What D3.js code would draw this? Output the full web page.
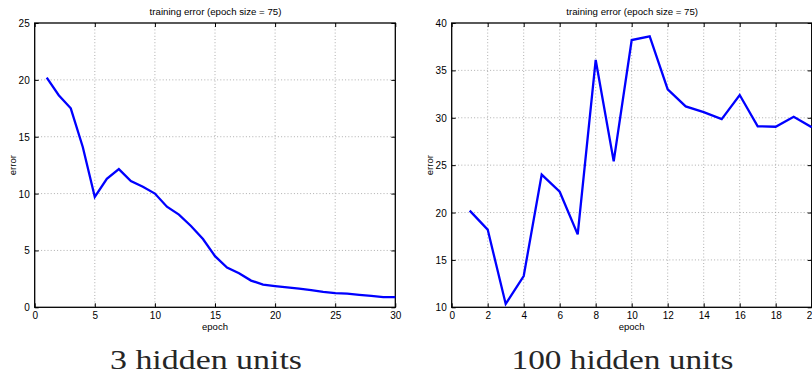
<!DOCTYPE html>
<html>
<head>
<meta charset="utf-8">
<script src="https://cdn.jsdelivr.net/npm/d3@7"></script>
<style>
  html, body { margin: 0; padding: 0; background: #fff; overflow: hidden; }
  svg { display: block; }
  .tick text { font-family: "Liberation Sans", Arial, sans-serif; font-size: 10px; fill: #000; }
  .lbl { font-family: "Liberation Sans", Arial, sans-serif; font-size: 9.5px; fill: #000; }
  .caption { font-family: "Liberation Serif", serif; font-size: 27px; fill: #262626; }
</style>
</head>
<body>
<script>
"use strict";

// panel 1: 3 hidden units
var epochs3 = [1, 2, 3, 4, 5, 6, 7, 8, 9, 10, 11, 12, 13, 14, 15, 16, 17, 18, 19, 20, 21, 22, 23, 24, 25, 26, 27, 28, 29, 30];
var error3 = [20.2, 18.65, 17.5, 14.1, 9.7, 11.3, 12.15, 11.1, 10.6, 10.0, 8.85, 8.15, 7.15, 6.0, 4.5, 3.5, 3.0, 2.35, 2.0, 1.87, 1.75, 1.65, 1.52, 1.35, 1.25, 1.2, 1.1, 1.0, 0.9, 0.9];
var xTicks3 = [0, 5, 10, 15, 20, 25, 30];
var yTicks3 = [0, 5, 10, 15, 20, 25];

// panel 2: 100 hidden units
var epochs100 = [1, 2, 3, 4, 5, 6, 7, 8, 9, 10, 11, 12, 13, 14, 15, 16, 17, 18, 19, 20];
var error100 = [20.2, 18.2, 10.35, 13.3, 24.0, 22.2, 17.7, 36.1, 25.4, 38.2, 38.6, 33.0, 31.2, 30.6, 29.85, 32.4, 29.1, 29.05, 30.1, 29.0];
var xTicks100 = [0, 2, 4, 6, 8, 10, 12, 14, 16, 18, 20];
var yTicks100 = [10, 15, 20, 25, 30, 35, 40];

var titleText = "training error (epoch size = 75)";

var config = {
  width: 812,
  height: 375,
  top: 23,
  bottom: 307.3,
  tickLen: 4,
  titleWidth: 132
};

var svg = d3.select("body").append("svg")
  .attr("width", config.width)
  .attr("height", config.height);

// size a text so that it spans the given width
function fitWidth(sel, w) {
  var base = parseFloat(getComputedStyle(sel.node()).fontSize);
  var len = sel.node().getComputedTextLength();
  if (len > 0) sel.style("font-size", (base * w / len) + "px");
}

function drawPanel(opts) {
  var x = d3.scaleLinear().domain(opts.xDomain).range([opts.left, opts.right]);
  var y = d3.scaleLinear().domain(opts.yDomain).range([config.bottom, config.top]);
  var g = svg.append("g");

  // dotted grid
  g.append("g").selectAll("line")
    .data(opts.xTicks.slice(1, -1))
    .join("line")
    .attr("x1", d => x(d)).attr("x2", d => x(d))
    .attr("y1", config.top).attr("y2", config.bottom)
    .attr("stroke", "#9a9a9a").attr("stroke-width", 0.8)
    .attr("stroke-dasharray", "1,2.2");
  g.append("g").selectAll("line")
    .data(opts.yTicks.slice(1, -1))
    .join("line")
    .attr("x1", opts.left).attr("x2", opts.right)
    .attr("y1", d => y(d)).attr("y2", d => y(d))
    .attr("stroke", "#9a9a9a").attr("stroke-width", 0.8)
    .attr("stroke-dasharray", "1,2.2");

  // axes, matlab style ticks pointing in
  var xAxis = g.append("g")
    .attr("transform", "translate(0," + config.bottom + ")")
    .call(d3.axisBottom(x).tickValues(opts.xTicks).tickSizeInner(-config.tickLen).tickSizeOuter(0).tickPadding(6));
  var yAxis = g.append("g")
    .attr("transform", "translate(" + opts.left + ",0)")
    .call(d3.axisLeft(y).tickValues(opts.yTicks).tickSizeInner(-config.tickLen).tickSizeOuter(0).tickPadding(5));
  g.append("g")
    .attr("transform", "translate(0," + config.top + ")")
    .call(d3.axisTop(x).tickValues(opts.xTicks).tickSizeInner(-config.tickLen).tickSizeOuter(0).tickFormat(""));
  g.append("g")
    .attr("transform", "translate(" + opts.right + ",0)")
    .call(d3.axisRight(y).tickValues(opts.yTicks).tickSizeInner(-config.tickLen).tickSizeOuter(0).tickFormat(""));

  g.selectAll(".domain").remove();
  g.selectAll(".tick line").attr("stroke", "#000").attr("stroke-width", 1);
  xAxis.selectAll(".tick text").attr("dy", "0.6em");
  yAxis.selectAll(".tick text").attr("dy", "0.35em");

  // box
  g.append("rect")
    .attr("x", opts.left).attr("y", config.top)
    .attr("width", opts.right - opts.left)
    .attr("height", config.bottom - config.top)
    .attr("fill", "none").attr("stroke", "#000").attr("stroke-width", 1.3);

  // data
  var line = d3.line().x(d => x(d[0])).y(d => y(d[1]));
  g.append("path")
    .datum(d3.zip(opts.epochs, opts.values))
    .attr("d", line)
    .attr("fill", "none")
    .attr("stroke", "#0000ff")
    .attr("stroke-width", 2.3)
    .attr("stroke-linejoin", "miter");

  var mid = (opts.left + opts.right) / 2;
  var title = g.append("text").classed("lbl", true)
    .attr("x", mid + 0.5).attr("y", 15)
    .attr("text-anchor", "middle")
    .text(titleText);
  fitWidth(title, config.titleWidth);

  g.append("text").classed("lbl", true)
    .attr("x", mid).attr("y", 330)
    .attr("text-anchor", "middle")
    .text("epoch");
  g.append("text").classed("lbl", true)
    .attr("transform", "translate(" + (opts.left - 19) + "," + ((config.top + config.bottom) / 2) + ") rotate(-90)")
    .attr("text-anchor", "middle")
    .text("error");

  g.append("text").classed("caption", true)
    .attr("x", opts.captionX).attr("y", 369)
    .attr("text-anchor", "middle")
    .attr("textLength", opts.captionW)
    .attr("lengthAdjust", "spacingAndGlyphs")
    .text(opts.caption);
}

drawPanel({
  left: 34.7, right: 395.3,
  xDomain: [0, 30], yDomain: [0, 25],
  xTicks: xTicks3, yTicks: yTicks3,
  epochs: epochs3, values: error3,
  caption: "3 hidden units", captionX: 206, captionW: 192
});

drawPanel({
  left: 451.7, right: 811.7,
  xDomain: [0, 20], yDomain: [10, 40],
  xTicks: xTicks100, yTicks: yTicks100,
  epochs: epochs100, values: error100,
  caption: "100 hidden units", captionX: 622.5, captionW: 222
});
</script>
</body>
</html>
